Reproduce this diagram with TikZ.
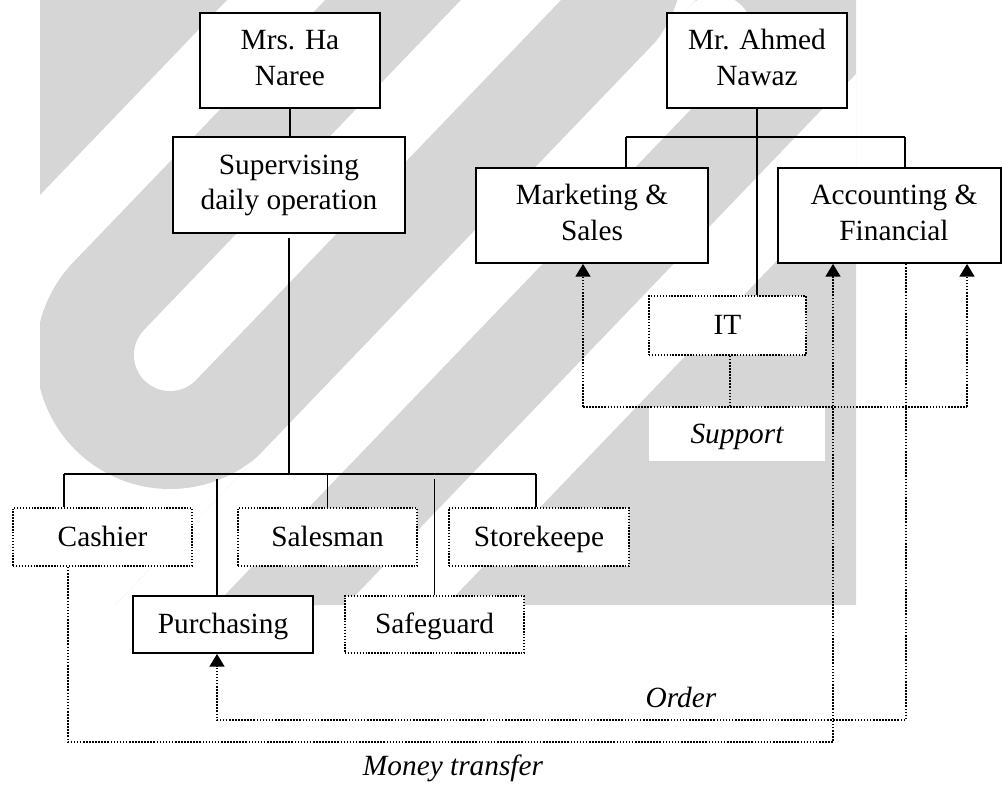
\documentclass[tikz,border=0pt]{standalone}
\usepackage{fontspec}
\setmainfont{Liberation Serif}
\usetikzlibrary{arrows.meta,calc}
\definecolor{wm}{RGB}{214,214,214}
\begin{document}
\begin{tikzpicture}[x=0.75pt,y=-0.75pt,
  txt/.style={font=\fontsize{22}{26.3}\selectfont},
  solidbox/.style={txt,draw,line width=1.3pt,fill=white,inner sep=0pt,align=center},
  dotbox/.style={solidbox,line width=1.2pt,dash pattern=on 1.1pt off 1.1pt},
  one/.style={text height=13.5pt,text depth=0pt},
  conn/.style={line width=1.3pt},
  dotconn/.style={line width=1.6pt,dash pattern=on 1.2pt off 1.1pt},
  arr/.style={-{Triangle[width=11pt,length=9.5pt]}},
  lab/.style={txt,font=\fontsize{22}{26.3}\selectfont\itshape,inner sep=0pt}
]
\useasboundingbox (0,0) rectangle (1002,785);
% watermark
\begin{scope}
\clip (40,0) rectangle (856,605);
\fill[wm] (40,0) -- (227,0) -- (40,195) -- cycle;
\draw[wm,line width=201pt,line cap=round] (549.4,-40) -- (170,355);
\draw[white,line width=54pt,line cap=round] (549.4,-40) -- (170,355);
\fill[wm] (696,0) -- (856,0) -- (856,605) -- (115.2,605) -- cycle;
\draw[white,line width=54pt,line cap=round] (716,31) -- (74,700);
\draw[white,line width=54pt] (1100,-128) -- (305,700);
\end{scope}

% nodes
\node[solidbox,minimum width=135pt,minimum height=71.25pt] (mrs) at (290,60.5) {\strut Mrs. Ha\\Naree\strut};
\node[solidbox,minimum width=174pt,minimum height=72pt] (sup) at (289,185) {\strut Supervising\\daily operation\strut};
\node[solidbox,minimum width=135pt,minimum height=71.25pt] (ahmed) at (757,60.5) {\strut Mr. Ahmed\\Nawaz\strut};
\node[solidbox,minimum width=174pt,minimum height=71.25pt] (mkt) at (592,215.5) {\strut Marketing \&\\Sales\strut};
\node[solidbox,minimum width=167.25pt,minimum height=71.25pt] (acc) at (889.5,215.5) {\strut\hspace*{6.75pt}Accounting \&\\\hspace*{6.75pt}Financial\strut};
\node[dotbox,one,minimum width=117.75pt,minimum height=44.25pt] (it) at (727.5,325.5) {IT};
\node[dotbox,one,minimum width=134.25pt,minimum height=43.5pt] (cashier) at (102.5,537) {Cashier};
\node[dotbox,one,minimum width=134.25pt,minimum height=43.5pt] (salesman) at (327.5,537) {Salesman};
\node[dotbox,one,minimum width=135pt,minimum height=43.5pt] (store) at (539,537) {Storekeepe};
\node[solidbox,one,minimum width=135pt,minimum height=42.75pt] (purch) at (223,624.5) {Purchasing};
\node[dotbox,one,minimum width=134.25pt,minimum height=42.75pt] (safe) at (434.5,624.5) {Safeguard};
\node[lab,one,fill=white,minimum width=132pt,minimum height=40.5pt] (supl) at (737,434) {Support};
\node[lab] (ordl) at (681,697) {Order};
\node[lab] (monl) at (453,768) {Money transfer};

% coordinates
\coordinate (busL) at (64,474);
\coordinate (busR) at (536,474);
\coordinate (pT) at (217,479);
\coordinate (b2L) at (626,137);
\coordinate (b2R) at (905,137);
\coordinate (sj) at (730,407);
\coordinate (sL) at (583,407);
\coordinate (sR) at (967,407);
\coordinate (m1) at (68,742);
\coordinate (m2) at (833,742);
\coordinate (o1) at (906,720);
\coordinate (o2) at (217,720);

% left tree
\draw[conn] (mrs.south) -- (mrs.south |- sup.north);
\draw[conn] ($(sup.south)+(0,4)$) -- (sup.south |- busL);
\draw[conn] (busL) -- (busR);
\draw[conn] (busL) -- (busL |- cashier.north);
\draw[conn] (salesman.north |- busL) -- (salesman.north);
\draw[conn] (busR) -- (busR |- store.north);
\draw[conn] (pT) -- (pT |- purch.north);
\draw[conn] ($(safe.north |- busL)+(0,5)$) -- (safe.north);

% right tree
\draw[conn] (ahmed.south) -- (ahmed.south |- it.north);
\draw[conn] (b2L) -- (b2R);
\draw[conn] (b2L) -- (b2L |- mkt.north);
\draw[conn] (b2R) -- (b2R |- acc.north);

% support
\draw[dotconn] (sj |- it.south) -- (sj);
\draw[dotconn] (sL) -- (sR);
\draw[dotconn,arr] (sL) -- (sL |- mkt.south);
\draw[dotconn,arr] (sR) -- (sR |- acc.south);

% money transfer
\draw[dotconn,arr] (m1 |- cashier.south) -- (m1) -- (m2) -- (m2 |- acc.south);
% order
\draw[dotconn,arr] (o1 |- acc.south) -- (o1) -- (o2) -- (o2 |- purch.south);
\end{tikzpicture}
\end{document}
